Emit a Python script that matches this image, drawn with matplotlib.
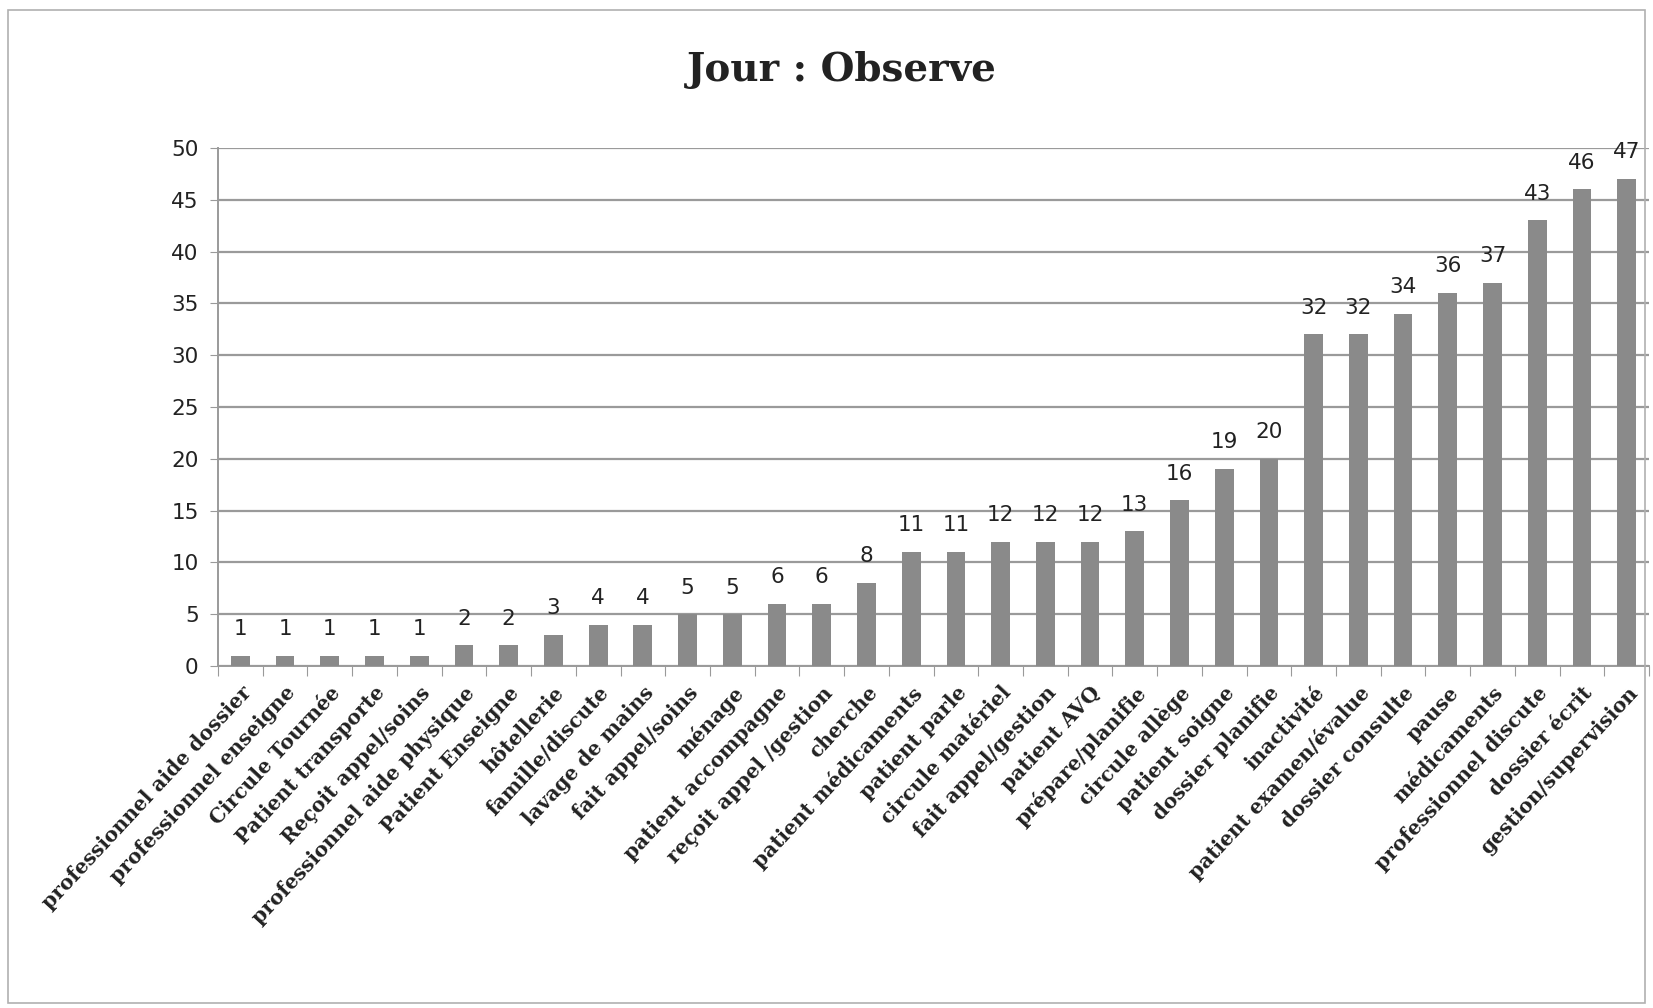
import matplotlib
matplotlib.use("Agg")
import matplotlib.pyplot as plt
from matplotlib.patches import Rectangle
import numpy as np

# ------------------------------------------------------------------
# Data
# ------------------------------------------------------------------
categories = [
    "professionnel aide dossier",
    "professionnel enseigne",
    "Circule Tournée",
    "Patient transporte",
    "Reçoit appel/soins",
    "professionnel aide physique",
    "Patient Enseigne",
    "hôtellerie",
    "famille/discute",
    "lavage de mains",
    "fait appel/soins",
    "ménage",
    "patient accompagne",
    "reçoit appel /gestion",
    "cherche",
    "patient médicaments",
    "patient parle",
    "circule matériel",
    "fait appel/gestion",
    "patient AVQ",
    "prépare/planifie",
    "circule allège",
    "patient soigne",
    "dossier planifie",
    "inactivité",
    "patient examen/évalue",
    "dossier consulte",
    "pause",
    "médicaments",
    "professionnel discute",
    "dossier écrit",
    "gestion/supervision",
]
values = [1, 1, 1, 1, 1, 2, 2, 3, 4, 4, 5, 5, 6, 6, 8, 11, 11, 12, 12, 12,
          13, 16, 19, 20, 32, 32, 34, 36, 37, 43, 46, 47]
y_ticks = [0, 5, 10, 15, 20, 25, 30, 35, 40, 45, 50]

BAR_COLOR = "#8a8a8a"
GRID_COLOR = "#9a9a9a"
TEXT_COLOR = "#222222"


def main() -> None:
    fig = plt.figure(figsize=(16.53, 10.08), dpi=100)
    ax = fig.add_axes([0.1319, 0.3393, 0.8657, 0.5139])

    x = np.arange(len(categories))
    bars = ax.bar(x, values, width=0.42, color=BAR_COLOR, zorder=3)

    # value labels above bars
    for rect, v in zip(bars, values):
        ax.annotate(
            str(v),
            (rect.get_x() + rect.get_width() / 2, rect.get_height()),
            xytext=(0, 12),
            textcoords="offset points",
            ha="center",
            va="bottom",
            fontsize=15.5,
            family="DejaVu Sans",
            color=TEXT_COLOR,
            zorder=4,
        )

    ax.set_xlim(-0.5, len(categories) - 0.5)
    ax.set_ylim(0, 50)
    ax.set_yticks(y_ticks)
    ax.set_yticklabels([str(t) for t in y_ticks], fontsize=15.5, color=TEXT_COLOR)
    ax.yaxis.grid(True, color=GRID_COLOR, linewidth=1.6, zorder=0)
    ax.tick_params(axis="y", length=6, color=GRID_COLOR, pad=8)

    # category boundary ticks + rotated labels
    ax.set_xticks(np.arange(len(categories) + 1) - 0.5, minor=False)
    ax.set_xticklabels([""] * (len(categories) + 1))
    ax.tick_params(axis="x", which="major", length=7, color=GRID_COLOR)
    ax.set_xticks(x, minor=True)
    ax.set_xticklabels(
        categories,
        minor=True,
        rotation=47,
        ha="right",
        rotation_mode="anchor",
        fontsize=14.5,
        fontweight="bold",
        family="DejaVu Serif",
        color=TEXT_COLOR,
    )
    ax.tick_params(axis="x", which="minor", length=0, pad=12)

    for side in ("top", "right"):
        ax.spines[side].set_visible(False)
    ax.spines["left"].set_color(GRID_COLOR)
    ax.spines["bottom"].set_color(GRID_COLOR)
    ax.spines["left"].set_linewidth(1.4)
    ax.spines["bottom"].set_linewidth(1.4)

    fig.text(
        0.509, 0.931, "Jour : Observe",
        ha="center", va="center",
        fontsize=28, fontweight="bold", family="DejaVu Serif",
        color=TEXT_COLOR,
    )

    # outer chart frame
    fig.patches.append(
        Rectangle((0.005, 0.005), 0.99, 0.985, transform=fig.transFigure,
                  fill=False, edgecolor="#b0b0b0", linewidth=1.2)
    )

    fig.savefig("out.png", dpi=100)
    plt.close(fig)


if __name__ == "__main__":
    main()
